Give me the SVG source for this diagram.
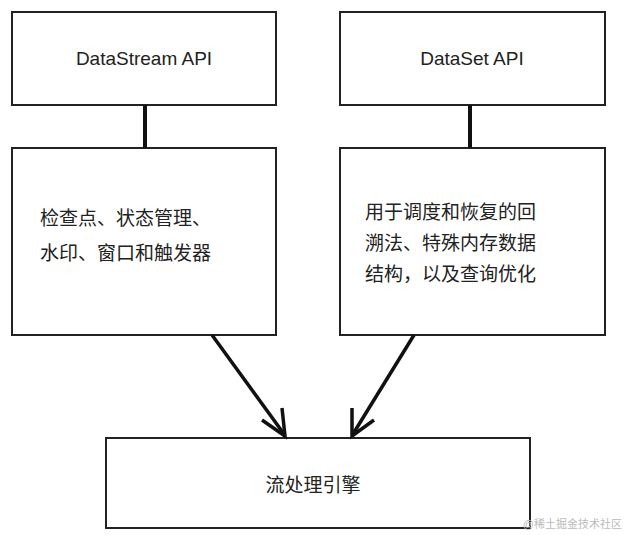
<svg xmlns="http://www.w3.org/2000/svg" width="628" height="535" viewBox="0 0 628 535">
<style>
.b{fill:#fff;stroke:#222;stroke-width:2}
.t{font-family:"Liberation Sans","Noto Sans CJK SC",sans-serif;font-size:19px;fill:#222}
.c{stroke:#111;stroke-width:4;fill:none}
</style>
<defs><marker id="a" markerWidth="10" markerHeight="10" refX="8" refY="5" orient="auto" markerUnits="userSpaceOnUse" viewBox="0 0 10 10"><path d="M0,0 L9,5 L0,10" fill="none" stroke="#111" stroke-width="1.8"/></marker></defs>
<rect width="628" height="535" fill="#fff"/>
<g id="n1"><rect class="b" x="12" y="12" width="264" height="93"/><text class="t" x="144" y="65" text-anchor="middle">DataStream API</text></g>
<g id="n2"><rect class="b" x="340" y="12" width="265" height="93"/><text class="t" x="472" y="65" text-anchor="middle">DataSet API</text></g>
<g id="n3"><rect class="b" x="12" y="148" width="264" height="187"/><text class="t" x="40" y="225">检查点、状态管理、</text><text class="t" x="40" y="260">水印、窗口和触发器</text></g>
<g id="n4"><rect class="b" x="340" y="148" width="265" height="187"/><text class="t" x="365" y="219">用于调度和恢复的回</text><text class="t" x="365" y="250">溯法、特殊内存数据</text><text class="t" x="365" y="281">结构，以及查询优化</text></g>
<g id="n5"><rect class="b" x="106" y="438" width="424" height="90"/><text class="t" x="313" y="492" text-anchor="middle">流处理引擎</text></g>
<g id="edges">
<line class="c" x1="145" y1="105" x2="145" y2="148"/>
<line class="c" x1="470" y1="105" x2="470" y2="148"/>
<path d="M212,335 L284,434" stroke="#111" stroke-width="3.5" fill="none"/>
<path d="M262,420 L285,436 L282,408" stroke="#111" stroke-width="3.5" fill="none"/>
<path d="M414,335 L353,434" stroke="#111" stroke-width="3.5" fill="none"/>
<path d="M352,408 L352,436 L374,420" stroke="#111" stroke-width="3.5" fill="none"/>
</g>
<text x="622" y="528" text-anchor="end" font-family="Liberation Sans,Noto Sans CJK SC,sans-serif" font-size="11" fill="#bbb">@稀土掘金技术社区</text>
</svg>
